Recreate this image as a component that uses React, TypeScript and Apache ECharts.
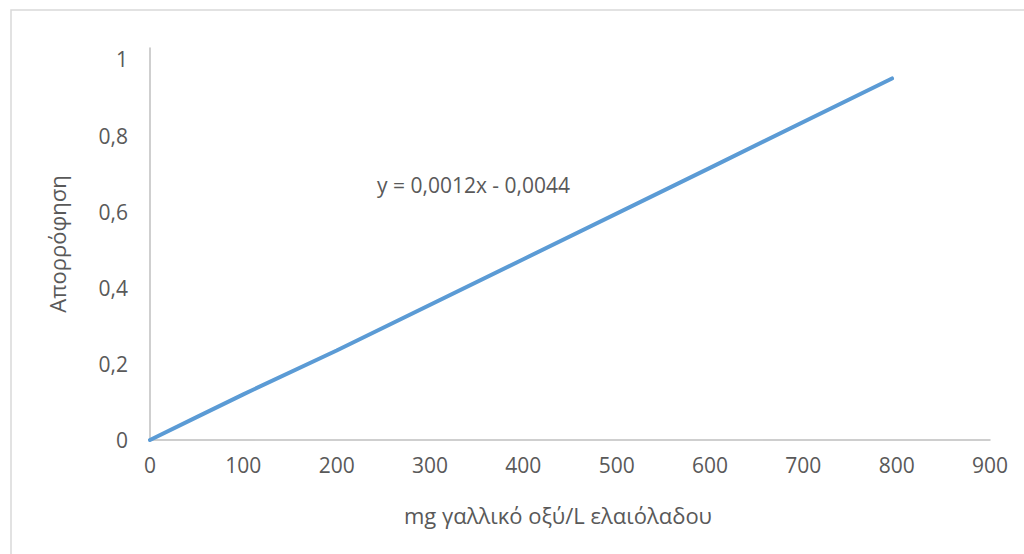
import React, { useEffect, useRef } from "react";
import * as echarts from "echarts";

const xValues = [0, 50, 100, 200, 400, 600, 795];
const yValues = [0, 0.06, 0.12, 0.235, 0.475, 0.715, 0.95];
const xTitle = "mg γαλλικό οξύ/L ελαιόλαδου";
const yTitle = "Απορρόφηση";
const equation = "y = 0,0012x - 0,0044";

const FONT = "'Open Sans', 'Noto Sans', sans-serif";
const GRAY = "#595959";

export default function App() {
  const ref = useRef<HTMLDivElement>(null);
  useEffect(() => {
    if (!ref.current) return;
    const chart = echarts.init(ref.current, null, { renderer: "svg" });
    chart.setOption({
      animation: false,
      backgroundColor: "#ffffff",
      textStyle: { fontFamily: FONT },
      grid: { left: 150, right: 34, top: 48, bottom: 114 },
      xAxis: {
        type: "value",
        min: 0,
        max: 900,
        interval: 100,
        name: xTitle,
        nameLocation: "middle",
        nameGap: 64,
        nameTextStyle: {
          color: GRAY,
          fontSize: 22,
          fontFamily: FONT,
          padding: [0, 24, 0, 0],
        },
        axisLine: { show: true, lineStyle: { color: "#bfbfbf", width: 1.5 } },
        axisTick: { show: false },
        splitLine: { show: false },
        axisLabel: { color: GRAY, fontSize: 21, fontFamily: FONT, margin: 14 },
      },
      yAxis: {
        type: "value",
        min: 0,
        max: 1.03,
        interval: 0.2,
        name: yTitle,
        nameLocation: "middle",
        nameGap: 82,
        nameTextStyle: { color: GRAY, fontSize: 22, fontFamily: FONT },
        axisLine: { show: true, lineStyle: { color: "#bfbfbf", width: 1.5 } },
        axisTick: { show: false },
        splitLine: { show: false },
        axisLabel: {
          color: GRAY,
          fontSize: 21,
          fontFamily: FONT,
          margin: 22,
          formatter: (v: number) => {
            const r = Math.round(v * 10) / 10;
            if (Math.abs(v - r) > 1e-6 || v > 1.0001) return "";
            return String(r).replace(".", ",");
          },
        },
      },
      series: [
        {
          type: "line",
          data: xValues.map((x, i) => [x, yValues[i]]),
          showSymbol: false,
          lineStyle: { color: "#5b9bd5", width: 4, cap: "round" },
        },
      ],
      graphic: [
        {
          type: "rect",
          shape: { x: 11, y: 10, width: 1100, height: 700 },
          style: { fill: "none", stroke: "#d9d9d9", lineWidth: 1.5 },
          silent: true,
        },
        {
          type: "text",
          x: 377,
          y: 185,
          style: {
            text: equation,
            fill: GRAY,
            font: `21px ${FONT}`,
            textVerticalAlign: "middle",
          },
        },
      ],
    });
    return () => chart.dispose();
  }, []);
  return (
    <div
      ref={ref}
      style={{ position: "fixed", left: 0, top: 0, width: 1024, height: 554 }}
    />
  );
}
